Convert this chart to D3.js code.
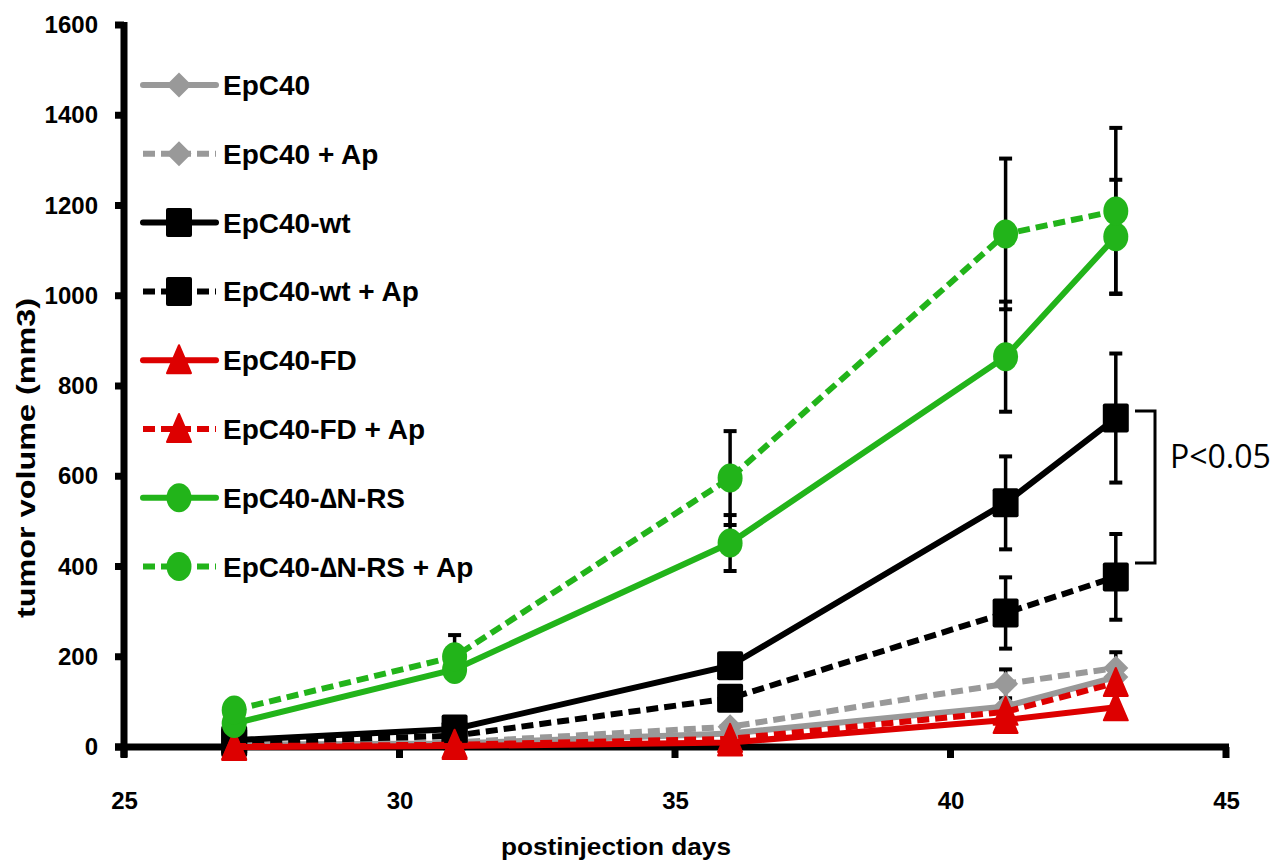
<!DOCTYPE html>
<html>
<head>
<meta charset="utf-8">
<script src="https://cdn.jsdelivr.net/npm/d3@7"></script>
<style>
  body { margin: 0; background: #fff; }
  svg text { font-family: "Liberation Sans", Arial, sans-serif; }
</style>
</head>
<body>
<svg id="chart" width="1288" height="863"></svg>
<script>
// days on the x axis
var days = [27, 31, 36, 41, 43];

var xTicks = [25, 30, 35, 40, 45];
var yTicks = [0, 200, 400, 600, 800, 1000, 1200, 1400, 1600];

// tumor volume (mm3) per group
var epc40 = [5, 8, 30, 90, 155];
var epc40Ap = [5, 10, 45, 140, 175];
var epc40Wt = [15, 40, 180, 541, 729];
var epc40WtAp = [10, 25, 108, 297, 377];
var epc40Fd = [0, 2, 10, 60, 88];
var epc40FdAp = [2, 5, 18, 78, 142];
var epc40Dn = [52, 172, 452, 865, 1131];
var epc40DnAp = [82, 200, 596, 1137, 1188];

// error bar half-lengths (null = none visible)
var epc40Err = [null, null, null, null, null];
var epc40ApErr = [null, null, null, 32, 35];
var epc40WtErr = [null, null, null, 103, 143];
var epc40WtApErr = [null, null, null, 79, 95];
var epc40FdErr = [null, null, null, null, null];
var epc40FdApErr = [null, null, null, null, null];
var epc40DnErr = [null, null, 62, 122, 126];
var epc40DnApErr = [null, 48, 104, 167, 184];

var seriesNames = ["EpC40", "EpC40 + Ap", "EpC40-wt", "EpC40-wt + Ap",
    "EpC40-FD", "EpC40-FD + Ap", "EpC40-\u2206N-RS", "EpC40-\u2206N-RS + Ap"];

var GRAY = "#999999", BLACK = "#000000", RED = "#dd0000", GREEN = "#22b41a";

var series = [
    {name: seriesNames[0], values: epc40, err: epc40Err, color: GRAY, dashed: false, marker: "diamond"},
    {name: seriesNames[1], values: epc40Ap, err: epc40ApErr, color: GRAY, dashed: true, marker: "diamond"},
    {name: seriesNames[2], values: epc40Wt, err: epc40WtErr, color: BLACK, dashed: false, marker: "square"},
    {name: seriesNames[3], values: epc40WtAp, err: epc40WtApErr, color: BLACK, dashed: true, marker: "square"},
    {name: seriesNames[4], values: epc40Fd, err: epc40FdErr, color: RED, dashed: false, marker: "triangle"},
    {name: seriesNames[5], values: epc40FdAp, err: epc40FdApErr, color: RED, dashed: true, marker: "triangle"},
    {name: seriesNames[6], values: epc40Dn, err: epc40DnErr, color: GREEN, dashed: false, marker: "circle"},
    {name: seriesNames[7], values: epc40DnAp, err: epc40DnApErr, color: GREEN, dashed: true, marker: "circle"}
];

var svg = d3.select("#chart");

var x = d3.scaleLinear().domain([25, 45]).range([124, 1226]);
var y = d3.scaleLinear().domain([0, 1600]).range([747, 25]);

// axes: d3 axes for the labels, heavy lines drawn on top
var yAxis = svg.append("g")
    .attr("transform", "translate(" + x(25) + ",0)")
    .call(d3.axisLeft(y).tickValues(yTicks).tickFormat(d3.format("d"))
        .tickSize(0).tickSizeOuter(0).tickPadding(26));
yAxis.select(".domain").remove();
yAxis.selectAll(".tick text")
    .style("font-size", "24px").style("font-weight", "bold").attr("fill", "#000");

var xAxis = svg.append("g")
    .attr("transform", "translate(0," + y(0) + ")")
    .call(d3.axisBottom(x).tickValues(xTicks).tickSize(0).tickSizeOuter(0).tickPadding(45));
xAxis.select(".domain").remove();
xAxis.selectAll(".tick text")
    .style("font-size", "24px").style("font-weight", "bold").attr("fill", "#000");

var axisLines = svg.append("g").attr("stroke", "#000").attr("stroke-width", 7);
axisLines.append("line")
    .attr("x1", x(25)).attr("x2", x(25)).attr("y1", y(1600) - 3).attr("y2", y(0) + 10);
axisLines.append("line")
    .attr("x1", x(25) - 9).attr("x2", x(45) + 3).attr("y1", y(0)).attr("y2", y(0));
axisLines.selectAll(".ytick")
    .data(yTicks).enter().append("line")
    .attr("class", "ytick")
    .attr("x1", x(25) - 9).attr("x2", x(25)).attr("y1", y).attr("y2", y);
axisLines.selectAll(".xtick")
    .data(xTicks).enter().append("line")
    .attr("class", "xtick")
    .attr("x1", x).attr("x2", x).attr("y1", y(0)).attr("y2", y(0) + 11);

// axis titles
svg.append("text")
    .attr("x", 616).attr("y", 855)
    .attr("text-anchor", "middle")
    .attr("textLength", 230).attr("lengthAdjust", "spacingAndGlyphs")
    .style("font-size", "24px").style("font-weight", "bold")
    .text("postinjection days");

svg.append("text")
    .attr("transform", "translate(35,458) rotate(-90)")
    .attr("text-anchor", "middle")
    .attr("textLength", 320).attr("lengthAdjust", "spacingAndGlyphs")
    .style("font-size", "25px").style("font-weight", "bold")
    .text("tumor volume (mm3)");

function drawMarker(g, shape, cx, cy, color) {
    if (shape === "diamond") {
        g.append("path")
            .attr("d", "M" + cx + "," + (cy - 12.5) + "L" + (cx + 12.5) + "," + cy + "L" + cx + "," + (cy + 12.5) + "L" + (cx - 12.5) + "," + cy + "Z")
            .attr("fill", color);
    } else if (shape === "square") {
        g.append("rect")
            .attr("x", cx - 13).attr("y", cy - 14.5).attr("width", 26).attr("height", 29)
            .attr("rx", 2).attr("fill", color);
    } else if (shape === "triangle") {
        g.append("path")
            .attr("d", "M" + cx + "," + (cy - 15) + "L" + (cx + 12) + "," + (cy + 13) + "L" + (cx - 12) + "," + (cy + 13) + "Z")
            .attr("fill", color).attr("stroke", color).attr("stroke-width", 2).attr("stroke-linejoin", "round");
    } else {
        g.append("ellipse")
            .attr("cx", cx).attr("cy", cy).attr("rx", 12.5).attr("ry", 14.5)
            .attr("fill", color);
    }
}

// error bars under everything else
var errG = svg.append("g");
series.forEach(function (s) {
    s.values.forEach(function (v, i) {
        var e = s.err[i];
        if (e === null) return;
        var cx = x(days[i]);
        errG.append("line")
            .attr("x1", cx).attr("x2", cx).attr("y1", y(v + e)).attr("y2", y(v - e))
            .attr("stroke", "#000").attr("stroke-width", 3.5);
        [v + e, v - e].forEach(function (b) {
            errG.append("line")
                .attr("x1", cx - 6.5).attr("x2", cx + 6.5).attr("y1", y(b)).attr("y2", y(b))
                .attr("stroke", "#000").attr("stroke-width", 4);
        });
    });
});

var line = d3.line()
    .x(function (d, i) { return x(days[i]); })
    .y(function (d) { return y(d); });

series.forEach(function (s) {
    var g = svg.append("g");
    g.append("path")
        .datum(s.values)
        .attr("d", line)
        .attr("fill", "none")
        .attr("stroke", s.color)
        .attr("stroke-width", 6)
        .attr("stroke-dasharray", s.dashed ? "12,6" : null);
    s.values.forEach(function (v, i) {
        drawMarker(g, s.marker, x(days[i]), y(v), s.color);
    });
});

// legend
var legend = svg.append("g");
series.forEach(function (s, i) {
    var ly = 85 + i * 68.8;
    legend.append("line")
        .attr("x1", 143).attr("x2", 216).attr("y1", ly).attr("y2", ly)
        .attr("stroke", s.color).attr("stroke-width", 6)
        .attr("stroke-linecap", s.dashed ? "butt" : "round")
        .attr("stroke-dasharray", s.dashed ? "12,6" : null);
    drawMarker(legend, s.marker, 179, ly, s.color);
    legend.append("text")
        .attr("x", 223).attr("y", ly + 10)
        .style("font-size", "28px").style("font-weight", "bold")
        .text(s.name);
});

// significance bracket
svg.append("path")
    .attr("d", "M1135,411H1155V563H1135")
    .attr("fill", "none").attr("stroke", "#000").attr("stroke-width", 3);
svg.append("text")
    .attr("x", 1170).attr("y", 468)
    .style("font-family", "'Open Sans', sans-serif")
    .style("font-size", "32px")
    .text("P<0.05");
</script>
</body>
</html>
